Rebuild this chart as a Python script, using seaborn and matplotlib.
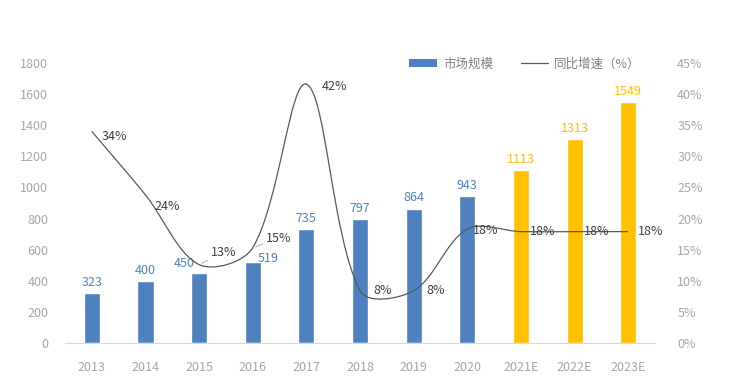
import numpy as np
import pandas as pd
import matplotlib
matplotlib.use("Agg")
import matplotlib.pyplot as plt
import seaborn as sns
from matplotlib.path import Path
from matplotlib.patches import PathPatch, Patch
from matplotlib.lines import Line2D
from matplotlib.ticker import FuncFormatter

# ---------------- data ----------------
years = ['2013', '2014', '2015', '2016', '2017', '2018', '2019', '2020',
         '2021E', '2022E', '2023E']
market_size = [323, 400, 450, 519, 735, 797, 864, 943, 1113, 1313, 1549]
growth_pct = [34.0, 23.8, 12.6, 15.3, 41.6, 8.4, 8.4, 18.3, 17.9, 17.9, 17.9]
period = ['actual'] * 8 + ['forecast'] * 3
legend_labels = ['市场规模', '同比增速（%）']
left_ticks = list(range(0, 2000, 200))
right_ticks = list(range(0, 50, 5))

# ---------------- style ----------------
BLUE = '#4F81C1'
GOLD = '#FFC000'
LINE = '#595959'
TICK = '#A6A6A6'
LABEL = '#404040'

sns.set_theme(style='white')
plt.rcParams['font.family'] = ['Noto Sans CJK SC', 'DejaVu Sans']

df = pd.DataFrame({'year': years, 'size': market_size, 'period': period})

fig = plt.figure(figsize=(7.48, 3.86), dpi=100)
ax = fig.add_axes([65 / 748, 43 / 386, 590 / 748, 280 / 386])

sns.barplot(data=df, x='year', y='size', hue='period',
            palette={'actual': BLUE, 'forecast': GOLD}, width=0.3,
            dodge=False, legend=False, saturation=1, ax=ax)

ax.set_xlim(-0.5, len(years) - 0.5)
ax.set_ylim(0, 1800)
ax.set_yticks(left_ticks)
ax.set_xlabel('')
ax.set_ylabel('')
ax.tick_params(axis='y', length=0, labelcolor=TICK, labelsize=9, pad=12)
ax.tick_params(axis='x', length=0, labelcolor=TICK, labelsize=9, pad=13)
for s in ['top', 'left', 'right']:
    ax.spines[s].set_visible(False)
ax.spines['bottom'].set_color('#D9D9D9')
ax.spines['bottom'].set_linewidth(0.8)
ax.grid(False)

# bar labels
bar_offsets = {2: (-11, 2), 3: (11, -2)}
for i, (v, p) in enumerate(zip(market_size, period)):
    dx, dy = bar_offsets.get(i, (0, 3))
    ax.annotate(f'{v}', (i, v), xytext=(dx, dy), textcoords='offset points',
                ha='center', va='bottom', fontsize=9,
                color=BLUE if p == 'actual' else GOLD)

# ---------------- growth line (smoothed) ----------------
ax2 = ax.twinx()
ax2.set_ylim(0, 45)
ax2.set_yticks(right_ticks)
ax2.yaxis.set_major_formatter(FuncFormatter(lambda v, _: f'{v:.0f}%'))
ax2.tick_params(axis='y', length=0, labelcolor=TICK, labelsize=9, pad=16)
for s in ax2.spines.values():
    s.set_visible(False)
ax2.grid(False)

xs = np.arange(len(years), dtype=float)
P = ax2.transData.transform(np.column_stack([xs, growth_pct]))
n = len(P)
verts = [P[0]]
codes = [Path.MOVETO]
for i in range(n - 1):
    p0 = P[i - 1] if i > 0 else P[i]
    p1 = P[i]
    p2 = P[i + 1]
    p3 = P[i + 2] if i + 2 < n else P[i + 1]
    d01 = np.linalg.norm(p1 - p0)
    d12 = np.linalg.norm(p2 - p1)
    d23 = np.linalg.norm(p3 - p2)
    c1 = p1 + (p2 - p0) * d12 / (d01 + d12) / 3.0
    c2 = p2 - (p3 - p1) * d12 / (d12 + d23) / 3.0
    verts += [c1, c2, p2]
    codes += [Path.CURVE4] * 3
verts_data = ax2.transData.inverted().transform(np.array(verts))
ax2.add_patch(PathPatch(Path(verts_data, codes), fill=False,
                        edgecolor=LINE, lw=0.9, zorder=3))

line_offsets = {0: (16, -4), 1: (16, -8), 2: (18, 9), 3: (19, 7),
                4: (20, -2), 7: (13, -1)}
leaders = {2, 3}
for i, g in enumerate(growth_pct):
    dx, dy = line_offsets.get(i, (16, 0))
    kw = {}
    if i in leaders:
        kw['arrowprops'] = dict(arrowstyle='-', color=TICK, lw=0.6,
                                shrinkA=0, shrinkB=2)
    ax2.annotate(f'{g:.0f}%', (i, g), xytext=(dx, dy),
                 textcoords='offset points', ha='center', va='center',
                 fontsize=9, color=LABEL, zorder=4, **kw)

# ---------------- legend ----------------
handles = [Patch(facecolor=BLUE, edgecolor='none'),
           Line2D([], [], color=LINE, lw=0.9)]
fig.legend(handles, legend_labels, loc='center', bbox_to_anchor=(0.702, 0.834),
           ncol=2, frameon=False, fontsize=9, handlelength=2.2,
           handleheight=0.55, columnspacing=2.2, handletextpad=0.5,
           labelcolor='#808080')

fig.savefig('out.png', dpi=100)
